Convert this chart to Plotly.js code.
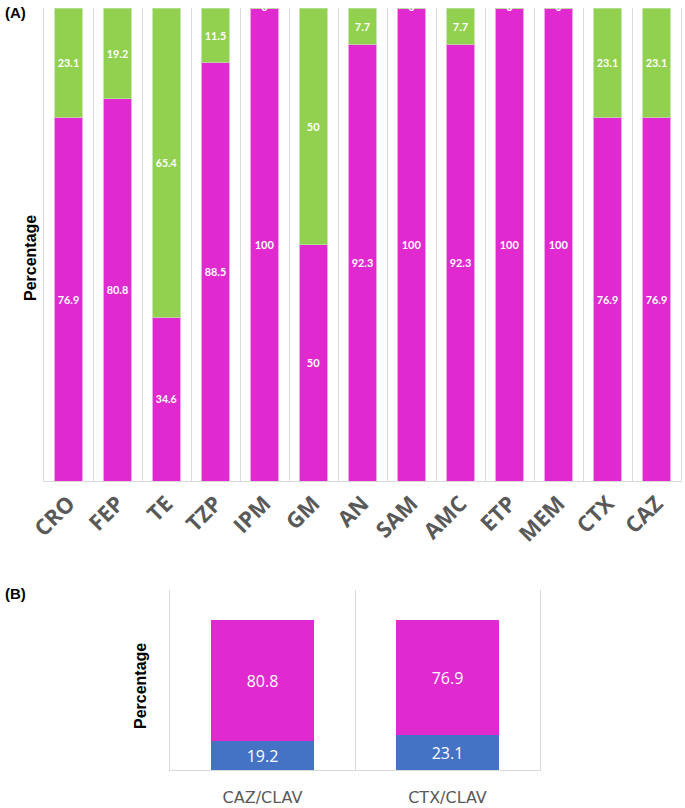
<!DOCTYPE html>
<html>
<head>
<meta charset="utf-8">
<script src="https://cdn.plot.ly/plotly-3.0.1.min.js"></script>
<style>html,body{margin:0;padding:0;background:#fff;}#chart{width:685px;height:808px;}</style>
</head>
<body>
<div id="chart"></div>
<script>
// Panel A data
const drugsA = ["CRO","FEP","TE","TZP","IPM","GM","AN","SAM","AMC","ETP","MEM","CTX","CAZ"];
const magentaA = [76.9, 80.8, 34.6, 88.5, 100, 50, 92.3, 100, 92.3, 100, 100, 76.9, 76.9];
const greenA   = [23.1, 19.2, 65.4, 11.5, 0, 50, 7.7, 0, 7.7, 0, 0, 23.1, 23.1];

// Panel B data
const drugsB = ["CAZ/CLAV","CTX/CLAV"];
const blueB = [19.2, 23.1];
const magentaB = [80.8, 76.9];

const MAG = "#E02AD0";
const GRN = "#92D050";
const BLU = "#4472C4";
const GRID = "#D9D9D9";

const zeroX = [], zeroY = [], zeroT = [];
drugsA.forEach((d, i) => {
  if (greenA[i] === 0) { zeroX.push(d); zeroY.push(magentaA[i] + greenA[i]); zeroT.push(String(greenA[i])); }
});

const labelFontA = {family: "Lato, 'Open Sans', sans-serif", size: 11, color: "#ffffff", weight: "bold"};
const labelFontB = {family: "'Open Sans', sans-serif", size: 16, color: "#ffffff"};

const traces = [
  {type: "bar", x: drugsA, y: magentaA, xaxis: "x", yaxis: "y",
   marker: {color: MAG, line: {color: "#EE8FE6", width: 0.8}},
   text: magentaA.map(String), texttemplate: "<b>%{text}</b>", textposition: "inside", insidetextanchor: "middle",
   textangle: 0, textfont: labelFontA, insidetextfont: labelFontA, hoverinfo: "skip", showlegend: false},
  {type: "bar", x: drugsA, y: greenA, xaxis: "x", yaxis: "y",
   marker: {color: GRN, line: {color: "#B8E29A", width: 0.8}},
   text: greenA.map(String), texttemplate: "<b>%{text}</b>", textposition: "inside", insidetextanchor: "middle",
   textangle: 0, textfont: labelFontA, insidetextfont: labelFontA, hoverinfo: "skip", showlegend: false},
  {type: "scatter", mode: "text", x: zeroX, y: zeroY, text: zeroT, xaxis: "x", yaxis: "y",
   texttemplate: "<b>%{text}</b>", textposition: "middle center", textfont: labelFontA,
   cliponaxis: false, hoverinfo: "skip", showlegend: false},
  {type: "bar", x: drugsB, y: blueB, xaxis: "x2", yaxis: "y2",
   marker: {color: BLU},
   text: blueB.map(String), textposition: "inside", insidetextanchor: "middle", textangle: 0,
   textfont: labelFontB, insidetextfont: labelFontB, hoverinfo: "skip", showlegend: false},
  {type: "bar", x: drugsB, y: magentaB, xaxis: "x2", yaxis: "y2",
   marker: {color: MAG},
   text: magentaB.map(String), textposition: "inside", insidetextanchor: "middle", textangle: 0,
   textfont: labelFontB, insidetextfont: labelFontB, hoverinfo: "skip", showlegend: false}
];

const layout = {
  width: 685, height: 808,
  margin: {l: 0, r: 0, t: 0, b: 0},
  paper_bgcolor: "#ffffff", plot_bgcolor: "#ffffff",
  barmode: "stack", bargap: 0.44,
  showlegend: false,
  xaxis: {domain: [44/685, 681/685], anchor: "y", type: "category",
    tickson: "boundaries", showgrid: true, gridcolor: GRID, gridwidth: 1,
    ticks: "", showline: true, linecolor: GRID, linewidth: 1,
    tickangle: -45, ticklabelstandoff: 0,
    tickfont: {family: "'Open Sans', sans-serif", size: 22, color: "#595959", weight: "bold"},
    fixedrange: true},
  yaxis: {domain: [1 - 481/808, 1 - 8/808], anchor: "x", range: [0, 100],
    showline: true, mirror: true, linecolor: GRID, linewidth: 1,
    showgrid: false, zeroline: false, showticklabels: false, ticks: "", fixedrange: true},
  xaxis2: {domain: [170/685, 540/685], anchor: "y2", type: "category",
    tickson: "boundaries", showgrid: true, gridcolor: GRID, gridwidth: 1,
    ticks: "", showline: true, linecolor: GRID, linewidth: 1,
    ticklabelstandoff: 13,
    tickfont: {family: "'DejaVu Sans', sans-serif", size: 16, color: "#595959"},
    fixedrange: true},
  yaxis2: {domain: [1 - 770/808, 1 - 590/808], anchor: "x2", range: [0, 120],
    showline: true, mirror: true, linecolor: GRID, linewidth: 1,
    showgrid: false, zeroline: false, showticklabels: false, ticks: "", fixedrange: true},
  annotations: [
    {text: "(A)", xref: "paper", yref: "paper", x: 3/685, y: 1 - 2/808, xanchor: "left", yanchor: "top",
     showarrow: false, font: {family: "'Liberation Sans', Arial, sans-serif", size: 15, color: "#000", weight: "bold"}},
    {text: "(B)", xref: "paper", yref: "paper", x: 3/685, y: 1 - 583/808, xanchor: "left", yanchor: "top",
     showarrow: false, font: {family: "'Liberation Sans', Arial, sans-serif", size: 15, color: "#000", weight: "bold"}},
    {text: "Percentage", xref: "paper", yref: "paper", x: 30/685, y: 1 - 258/808, xanchor: "center", yanchor: "middle",
     textangle: -90, showarrow: false, font: {family: "'Liberation Sans', Arial, sans-serif", size: 16, color: "#000", weight: "bold"}},
    {text: "Percentage", xref: "paper", yref: "paper", x: 140/685, y: 1 - 686/808, xanchor: "center", yanchor: "middle",
     textangle: -90, showarrow: false, font: {family: "'Liberation Sans', Arial, sans-serif", size: 16, color: "#000", weight: "bold"}}
  ]
};

Plotly.newPlot("chart", traces, layout, {displayModeBar: false, staticPlot: true});
</script>
</body>
</html>
